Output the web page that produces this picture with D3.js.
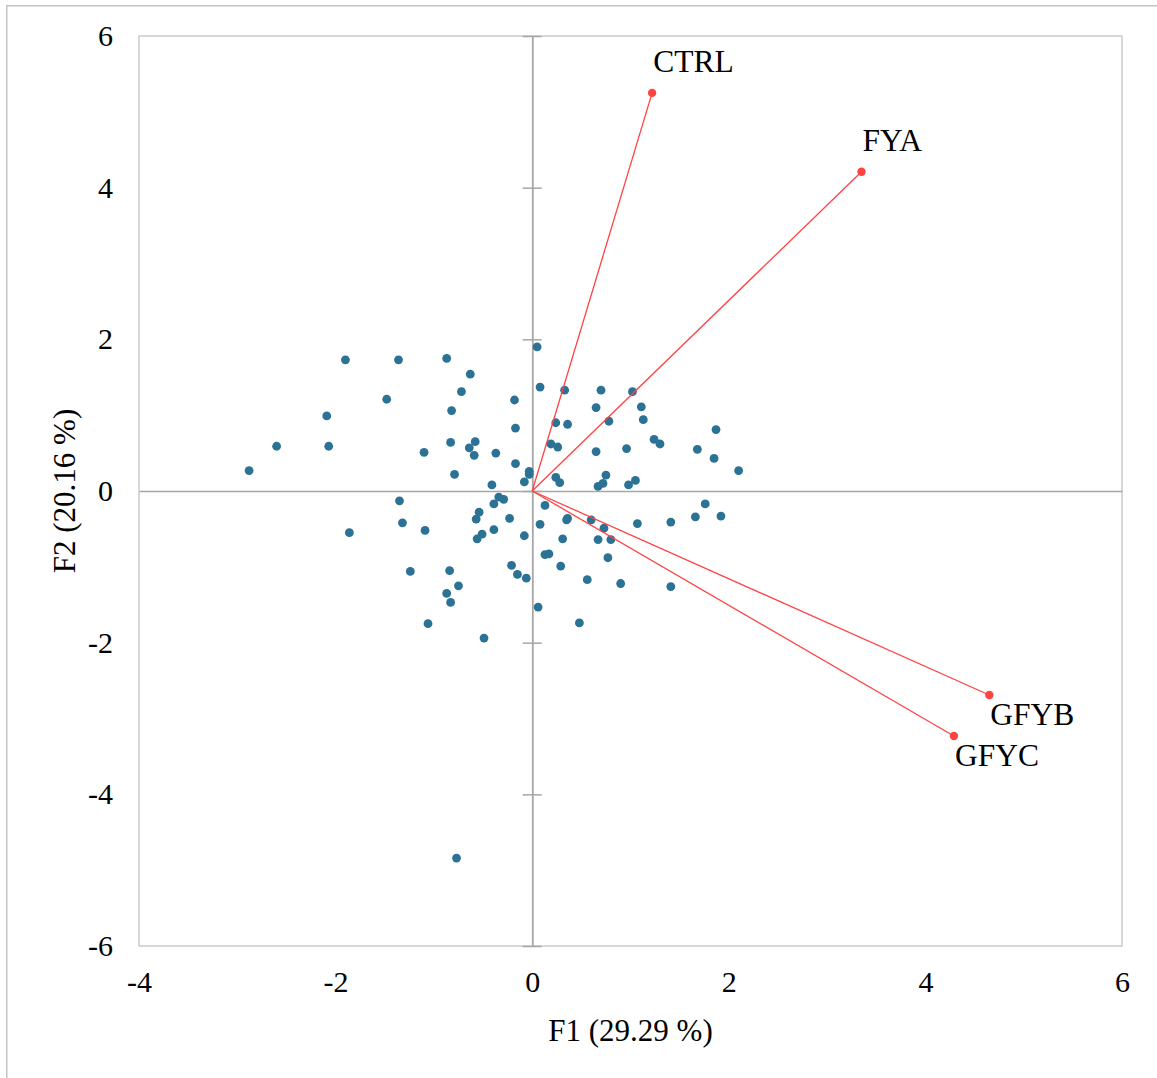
<!DOCTYPE html>
<html>
<head>
<meta charset="utf-8">
<script src="https://cdn.jsdelivr.net/npm/d3@7/dist/d3.min.js"></script>
<style>
  html, body { margin: 0; padding: 0; background: #fff; }
  svg { display: block; }
  text { font-family: "Liberation Serif", "Times New Roman", serif; fill: #000; }
</style>
</head>
<body>
<svg id="chart" width="1157" height="1078"></svg>
<script>
// Observation scores on the first two factors (F1, F2)
const obsF1 = [
  0.05, -1.90, -1.36, -0.87, -0.63, 0.08, -0.72, -1.48, -0.18, -2.09,
  -0.82, -0.17, -2.60, -2.07, -0.83, -0.58, -0.64, -0.59, -1.10, -0.37,
  -0.17, -2.88, -0.79, -0.03, -0.03, -0.08, -0.41, -1.35, -0.34, -0.29,
  -0.39, -0.54, -0.57, -0.23, -1.32, -1.09, -0.39, -1.86, -0.08, -0.51,
  -0.56, 0.13, 0.17, -0.21, -0.15, -0.06, -1.24, -0.84, -0.75, -0.87,
  -0.83, 0.06, -1.06, -0.49, 0.13, 0.08, -0.77,
  0.33, 0.70, 1.02, 0.65, 1.11, 0.78, 1.13, 0.24, 0.36, 1.24,
  1.30, 1.87, 0.19, 0.26, 0.65, 0.96, 1.68, 1.85, 2.10, 0.24,
  0.28, 0.75, 0.72, 0.67, 1.05, 0.98, 0.35, 0.36, 0.60, 0.73,
  1.07, 1.41, 1.66, 1.76, 1.92, 0.31, 0.67, 0.80, 0.77, 0.29,
  0.56, 0.90, 1.41, 0.48
];
const obsF2 = [
  1.90, 1.73, 1.73, 1.75, 1.54, 1.37, 1.31, 1.21, 1.20, 0.99,
  1.06, 0.83, 0.59, 0.59, 0.64, 0.65, 0.57, 0.47, 0.51, 0.50,
  0.36, 0.27, 0.22, 0.26, 0.22, 0.12, 0.08, -0.13, -0.08, -0.11,
  -0.17, -0.28, -0.37, -0.36, -0.42, -0.52, -0.51, -0.55, -0.59, -0.57,
  -0.63, -0.84, -0.83, -0.98, -1.10, -1.15, -1.06, -1.05, -1.25, -1.35,
  -1.47, -1.53, -1.75, -1.94, -0.19, -0.44, -4.84,
  1.33, 1.33, 1.31, 1.10, 1.11, 0.92, 0.94, 0.90, 0.88, 0.68,
  0.62, 0.81, 0.62, 0.58, 0.52, 0.56, 0.55, 0.43, 0.27, 0.18,
  0.11, 0.21, 0.10, 0.06, 0.14, 0.08, -0.38, -0.36, -0.38, -0.49,
  -0.43, -0.41, -0.34, -0.17, -0.33, -0.63, -0.64, -0.64, -0.88, -0.99,
  -1.17, -1.22, -1.26, -1.74
];

// Variable loadings (arrows from the origin)
const varNames = ["CTRL", "FYA", "GFYB", "GFYC"];
const varF1 = [1.22, 3.35, 4.65, 4.29];
const varF2 = [5.25, 4.21, -2.69, -3.23];

const xTicks = [-4, -2, 0, 2, 4, 6];
const yTicks = [-6, -4, -2, 0, 2, 4, 6];
const xTitle = "F1 (29.29 %)";
const yTitle = "F2 (20.16 %)";

const svg = d3.select("#chart");
const plotL = 139, plotR = 1122, plotT = 36, plotB = 946;

const x = d3.scaleLinear().domain([-4, 6]).range([plotL, plotR]);
const y = d3.scaleLinear().domain([-6, 6]).range([plotB, plotT]);

// plain hyphen-minus for negative tick values
const fmt = d => String(d);

// outer chart frame
svg.append("rect")
  .attr("x", 6.75).attr("y", 5.75)
  .attr("width", 1200).attr("height", 1200)
  .attr("fill", "none").attr("stroke", "#c4c4c4").attr("stroke-width", 1.5);

// plot area frame
svg.append("rect")
  .attr("x", plotL).attr("y", plotT)
  .attr("width", plotR - plotL).attr("height", plotB - plotT)
  .attr("fill", "none").attr("stroke", "#c4c4c4").attr("stroke-width", 1.3);

// tick labels along plot edges
const yLab = svg.append("g")
  .attr("transform", `translate(${plotL},0)`)
  .call(d3.axisLeft(y).tickValues(yTicks).tickSize(0).tickPadding(26).tickFormat(fmt));
yLab.select(".domain").remove();
yLab.selectAll("text").style("font-size", "30px").style("font-family", "'Liberation Serif', serif");

const xLab = svg.append("g")
  .attr("transform", `translate(0,${plotB})`)
  .call(d3.axisBottom(x).tickValues(xTicks).tickSize(0).tickPadding(25).tickFormat(fmt));
xLab.select(".domain").remove();
xLab.selectAll("text").style("font-size", "30px").style("font-family", "'Liberation Serif', serif");

// zero lines: vertical one carries cross tick marks, horizontal one is plain
const axisColor = "#a6a6a6";
function styleZeroAxis(g) {
  g.selectAll("text").remove();
  g.selectAll("line").attr("stroke", axisColor).attr("stroke-width", 1.5);
  g.select(".domain").attr("stroke", axisColor).attr("stroke-width", 1.5);
}
[d3.axisLeft, d3.axisRight].forEach(a => {
  svg.append("g")
    .attr("transform", `translate(${x(0)},0)`)
    .call(a(y).tickValues(yTicks).tickSizeInner(9.5).tickSizeOuter(0))
    .call(styleZeroAxis);
});
svg.append("g")
  .attr("transform", `translate(0,${y(0)})`)
  .call(d3.axisBottom(x).tickValues([]).tickSizeOuter(0))
  .call(styleZeroAxis);

// observations
const obs = obsF1.map((v, i) => ({ f1: v, f2: obsF2[i] }));
svg.append("g").selectAll("circle")
  .data(obs).join("circle")
  .attr("cx", d => x(d.f1))
  .attr("cy", d => y(d.f2))
  .attr("r", 4.4)
  .attr("fill", "#2b7294");

// variable vectors
const vars = varNames.map((n, i) => ({ name: n, f1: varF1[i], f2: varF2[i] }));
const red = "#ff4343";
const vg = svg.append("g");
vg.selectAll("line")
  .data(vars).join("line")
  .attr("x1", x(0)).attr("y1", y(0))
  .attr("x2", d => x(d.f1)).attr("y2", d => y(d.f2))
  .attr("stroke", red).attr("stroke-width", 1.3);
vg.selectAll("circle")
  .data(vars).join("circle")
  .attr("cx", d => x(d.f1)).attr("cy", d => y(d.f2))
  .attr("r", 4.2).attr("fill", red);
vg.selectAll("text")
  .data(vars).join("text")
  .attr("x", d => x(d.f1) + 1)
  .attr("y", d => y(d.f2) + (d.f2 > 0 ? -21 : 30))
  .style("font-size", "31.5px")
  .text(d => d.name);

// axis titles
svg.append("text")
  .attr("x", (plotL + plotR) / 2).attr("y", 1041)
  .attr("text-anchor", "middle")
  .style("font-size", "31px")
  .text(xTitle);
svg.append("text")
  .attr("transform", `translate(74.5,${(plotT + plotB) / 2}) rotate(-90)`)
  .attr("text-anchor", "middle")
  .style("font-size", "31px")
  .text(yTitle);
</script>
</body>
</html>
